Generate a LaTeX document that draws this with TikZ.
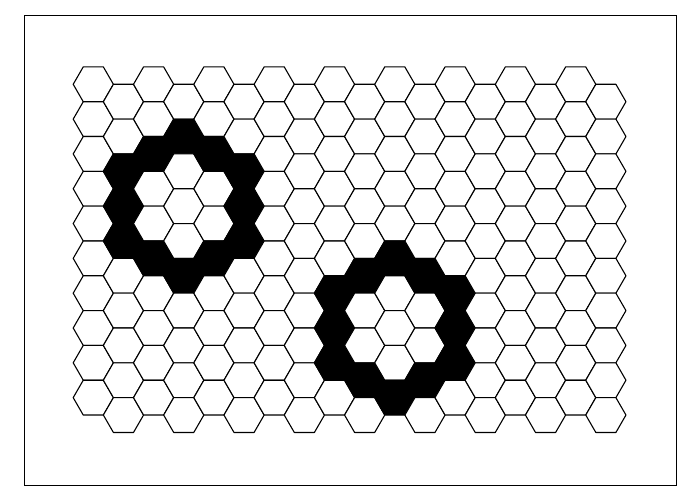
\documentclass[tikz,border=0pt]{standalone}
\begin{document}
\begin{tikzpicture}[x=1pt,y=-1pt,
  hexcell/.style={draw=black, line width=1.1pt, line join=round},
  framebox/.style={draw=black, line width=0.9pt}]
\useasboundingbox (0,0) rectangle (700,500);
\draw[framebox] (24,15) rectangle (676,485);
\foreach \c in {0,...,17}{
 \foreach \r in {0,...,9}{
  \pgfmathtruncatemacro{\odd}{mod(\c,2)}
  \pgfmathsetmacro{\cx}{93.3+30.15*\c}
  \pgfmathsetmacro{\cy}{84.3+34.815*\r+17.4075*\odd}
  \pgfmathtruncatemacro{\q}{\c}
  \pgfmathtruncatemacro{\rr}{\r-(\c-\odd)/2}
  \pgfmathtruncatemacro{\da}{(abs(\q-3)+abs(\rr-2)+abs(\q-3+\rr-2))/2}
  \pgfmathtruncatemacro{\db}{(abs(\q-10)+abs(\rr-2)+abs(\q-10+\rr-2))/2}
  \pgfmathtruncatemacro{\blk}{or(\da==2,\db==2)}
  \ifnum\blk=1 \def\fc{black}\else\def\fc{white}\fi
  \draw[hexcell, fill=\fc] (\cx,\cy) +(0:20.1) -- +(60:20.1) -- +(120:20.1) -- +(180:20.1) -- +(240:20.1) -- +(300:20.1) -- cycle;
 }
}
\end{tikzpicture}
\end{document}
